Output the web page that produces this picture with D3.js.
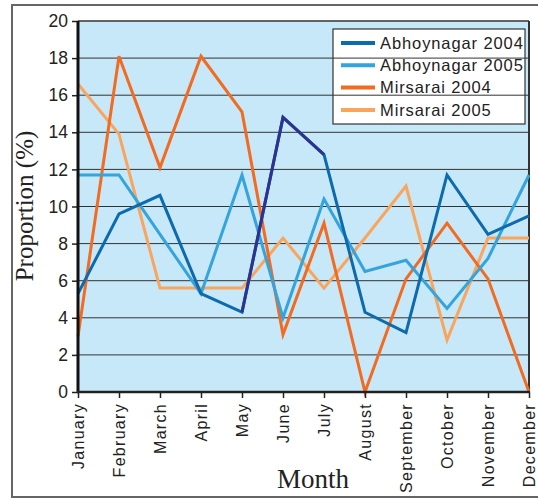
<!DOCTYPE html>
<html><head><meta charset="utf-8">
<script src="https://cdn.jsdelivr.net/npm/d3@7"></script>
<style>body{margin:0;background:#fff}</style>
</head><body>
<svg id="c" width="538" height="499"></svg>
<script>
const months = ["January","February","March","April","May","June","July","August","September","October","November","December"];
const abhoy2004 = [5.3, 9.6, 10.6, 5.3, 4.3, 14.8, 12.8, 4.3, 3.2, 11.7, 8.5, 9.5];
const abhoy2005 = [11.7, 11.7, 8.5, 5.3, 11.7, 4.0, 10.4, 6.5, 7.1, 4.5, 7.2, 11.7];
const mirsarai2004 = [3.0, 18.1, 12.1, 18.1, 15.1, 3.1, 9.1, 0, 6.1, 9.1, 6.1, 0];
const mirsarai2005 = [16.6, 13.9, 5.6, 5.6, 5.6, 8.3, 5.6, 8.3, 11.1, 2.8, 8.3, 8.3];
const yTicks = [0,2,4,6,8,10,12,14,16,18,20];
const seriesNames = ["Abhoynagar 2004","Abhoynagar 2005","Mirsarai 2004","Mirsarai 2005"];
const seriesColors = ["#0d6aad","#35a3dc","#f26b21","#fba55c"];
const highlightColor = "#2e3191";

const svg = d3.select("#c");
const L = 78, R = 529, T = 21, B = 392;
const x = d3.scalePoint().domain(months).range([L, R]);
const y = d3.scaleLinear().domain([0, 20]).range([B, T]);
const sans = "Liberation Sans, Arial, sans-serif";
const serif = "Liberation Serif, Times New Roman, serif";

// outer frame
svg.append("path").attr("d", `M545,5 H12 V497 H545`).attr("fill","none").attr("stroke","#666").attr("stroke-width",2);

// plot background
svg.append("rect").attr("x", L).attr("y", T).attr("width", R-L).attr("height", B-T).attr("fill", "#c6e8f8");

// legend box (gridlines show through it)
const lg = svg.append("g").attr("transform","translate(333,29)");
lg.append("rect").attr("width",192).attr("height",95).attr("fill","#fff").attr("stroke","#333").attr("stroke-width",1.2);

// gridlines
svg.append("g").selectAll("line").data(yTicks.filter(d=>d>0)).join("line")
  .attr("x1", L).attr("x2", R).attr("y1", d=>y(d)).attr("y2", d=>y(d))
  .attr("stroke", "#333").attr("stroke-width", 1);

// plot border
svg.append("line").attr("x1",L).attr("x2",R).attr("y1",T).attr("y2",T).attr("stroke","#555").attr("stroke-width",1.5);
svg.append("line").attr("x1",R).attr("x2",R).attr("y1",T).attr("y2",B).attr("stroke","#333").attr("stroke-width",2);

// series
const data = [abhoy2004, abhoy2005, mirsarai2004, mirsarai2005];
const line = d3.line().x((d,i)=>x(months[i])).y(d=>y(d));
[3,2,1,0].forEach(k => {
  svg.append("path").attr("d", line(data[k])).attr("fill","none")
    .attr("stroke", seriesColors[k]).attr("stroke-width", 3);
});
// highlighted segment May-July of Abhoynagar 2004
svg.append("path").attr("d", d3.line().x((d,i)=>x(months[i+4])).y(d=>y(d))(abhoy2004.slice(4, 7)))
  .attr("fill","none").attr("stroke", highlightColor).attr("stroke-width", 3);

// axes
const gy = svg.append("g").attr("transform", `translate(${L},0)`)
  .call(d3.axisLeft(y).tickValues(yTicks).tickSize(6).tickPadding(4));
gy.select(".domain").remove();
gy.selectAll(".tick line").attr("stroke","#222").attr("stroke-width",1.5);
gy.selectAll("text").attr("font-family",sans).attr("font-size",17.5).attr("fill","#222");

const gx = svg.append("g").attr("transform", `translate(0,${B})`)
  .call(d3.axisBottom(x).tickSize(6).tickPadding(4));
gx.select(".domain").remove();
gx.selectAll(".tick line").attr("stroke","#222").attr("stroke-width",1.5);
gx.selectAll("text").attr("font-family",sans).attr("font-size",16).attr("letter-spacing","1.3px").attr("fill","#222")
  .attr("transform","rotate(-90)").attr("text-anchor","end").attr("dy","0.35em").attr("x",-11).attr("y",0);

svg.append("line").attr("x1",L).attr("x2",L).attr("y1",T).attr("y2",B+1).attr("stroke","#111").attr("stroke-width",3);
svg.append("line").attr("x1",L-1).attr("x2",R+1).attr("y1",B).attr("y2",B).attr("stroke","#222").attr("stroke-width",2.5);

// titles
svg.append("text").attr("transform", `translate(33,206) rotate(-90)`).attr("text-anchor","middle")
  .attr("font-family",serif).attr("font-size",25).attr("fill","#222").text("Proportion (%)");
svg.append("text").attr("x", 313).attr("y", 488).attr("text-anchor","middle")
  .attr("font-family",serif).attr("font-size",27).attr("fill","#222").text("Month");

// legend entries
const items = lg.selectAll("g.item").data(seriesNames).join("g").attr("class","item")
  .attr("transform",(d,i)=>`translate(0,${14+i*22.3})`);
items.append("line").attr("x1",8).attr("x2",42).attr("stroke",(d,i)=>seriesColors[i]).attr("stroke-width",4);
items.append("text").attr("x",47).attr("dy","0.35em").attr("font-family",sans).attr("letter-spacing","0.9px")
  .attr("font-size",16.5).attr("fill","#222").text(d=>d);
</script>
</body></html>
